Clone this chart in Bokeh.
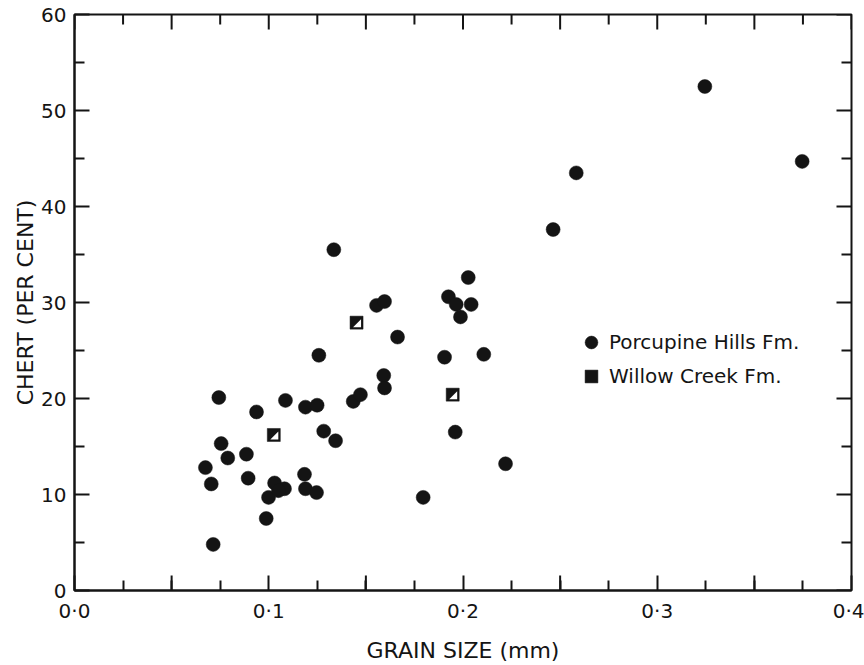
from bokeh.plotting import figure
from bokeh.models import FixedTicker, Legend, LegendItem, ColumnDataSource, Range1d
from bokeh.embed import file_html
from bokeh.resources import INLINE

# Porcupine Hills Fm. (grain size mm, chert %)
porc_x = [0.0743, 0.0937, 0.1086, 0.1189, 0.1249, 0.1258, 0.1283, 0.1344, 0.0755,
          0.0789, 0.0885, 0.0674, 0.0704, 0.0894, 0.1030, 0.1081, 0.0999, 0.1050,
          0.1184, 0.1189, 0.1246, 0.0987, 0.0714, 0.1335, 0.1555, 0.1596, 0.1663,
          0.1435, 0.1472, 0.1592, 0.1596, 0.2027, 0.1925, 0.1965, 0.2042, 0.1987,
          0.1905, 0.2107, 0.1960, 0.2219, 0.1795, 0.2583, 0.2464, 0.3245, 0.3746]
porc_y = [20.1, 18.6, 19.8, 19.1, 19.3, 24.5, 16.6, 15.6, 15.3,
          13.8, 14.2, 12.8, 11.1, 11.7, 11.2, 10.6, 9.7, 10.4,
          12.1, 10.6, 10.2, 7.5, 4.8, 35.5, 29.7, 30.1, 26.4,
          19.7, 20.4, 22.4, 21.1, 32.6, 30.6, 29.8, 29.8, 28.5,
          24.3, 24.6, 16.5, 13.2, 9.7, 43.5, 37.6, 52.5, 44.7]

# Willow Creek Fm.
wc_x = [0.1026, 0.1452, 0.1947]
wc_y = [16.2, 27.9, 20.4]

x_labeled = [0.0, 0.1, 0.2, 0.3, 0.4]
x_tick_labels = ["0·0", "0·1", "0·2", "0·3", "0·4"]
x_mid = [0.05, 0.15, 0.25, 0.35]
x_minor = [0.025, 0.075, 0.125, 0.175, 0.225, 0.275, 0.325, 0.375]
y_ticks = [0, 10, 20, 30, 40, 50, 60]
y_minor = [5, 15, 25, 35, 45, 55]

FONT = "DejaVu Sans"
INK = "#141414"

FW, FH = 777, 576
XR, YR = (0.0, 0.4), (0, 60)
MAJ, MIN = 15, 10

p = figure(frame_width=FW, frame_height=FH, x_range=Range1d(*XR), y_range=Range1d(*YR),
           output_backend="svg", toolbar_location=None,
           min_border_left=74, min_border_right=13, min_border_top=14, min_border_bottom=67,
           background_fill_color="white", border_fill_color="white")
p.outline_line_color = INK
p.outline_line_width = 2
p.grid.visible = False

def style_axis(ax, ticks, minor):
    ax.ticker = FixedTicker(ticks=ticks, minor_ticks=minor)
    ax.axis_line_color = INK
    ax.axis_line_width = 2
    ax.major_tick_line_color = INK
    ax.major_tick_line_width = 2
    ax.minor_tick_line_color = INK
    ax.minor_tick_line_width = 2
    ax.major_tick_in = MAJ
    ax.major_tick_out = 0
    ax.minor_tick_in = MIN
    ax.minor_tick_out = 0
    ax.major_label_text_font = FONT
    ax.major_label_text_color = INK
    ax.major_label_text_font_size = "20px"
    ax.axis_label_text_font = FONT
    ax.axis_label_text_font_style = "normal"
    ax.axis_label_text_color = INK
    ax.axis_label_text_font_size = "22px"

xa = p.xaxis[0]
style_axis(xa, x_labeled, x_minor + x_mid)
xa.major_label_overrides = {t: lab for t, lab in zip(x_labeled, x_tick_labels)}
xa.major_label_standoff = 8
xa.axis_label = "GRAIN SIZE (mm)"
xa.axis_label_standoff = 12

ya = p.yaxis[0]
style_axis(ya, y_ticks, y_minor)
ya.major_label_standoff = 8
ya.axis_label = "CHERT (PER CENT)"
ya.axis_label_standoff = 0

# tick marks on the top and right frame edges, and the longer 0.05 ticks at the bottom
px_x = (XR[1] - XR[0]) / FW
px_y = (YR[1] - YR[0]) / FH
x_all_major = sorted(x_labeled + x_mid)
top_x = x_all_major + x_minor
top_len = [MAJ] * len(x_all_major) + [MIN] * len(x_minor)
p.segment(x0=top_x, y0=[YR[1]] * len(top_x), x1=top_x,
          y1=[YR[1] - L * px_y for L in top_len], line_color=INK, line_width=2)
p.segment(x0=x_mid, y0=[YR[0]] * len(x_mid), x1=x_mid,
          y1=[YR[0] + MAJ * px_y] * len(x_mid), line_color=INK, line_width=2)
right_y = y_ticks + y_minor
right_len = [MAJ] * len(y_ticks) + [MIN] * len(y_minor)
p.segment(x0=[XR[1]] * len(right_y), y0=right_y,
          x1=[XR[1] - L * px_x for L in right_len], y1=right_y, line_color=INK, line_width=2)

porc_src = ColumnDataSource(dict(x=porc_x, y=porc_y))
wc_src = ColumnDataSource(dict(x=wc_x, y=wc_y))

r_porc = p.scatter("x", "y", source=porc_src, marker="circle", size=14,
                   fill_color=INK, line_color=INK, line_width=0.5)
r_wc = p.scatter("x", "y", source=wc_src, marker="square", size=13,
                 fill_color=INK, line_color=INK, line_width=0.5)

# white lower-right half-triangle inside each square (offsets in screen px)
tri_off = [(-3.5, -4.5), (4.5, -4.5), (4.5, 3.5)]  # (dx px, dy px) with y up
tri_xs = [[x + dx * px_x for dx, dy in tri_off] for x in wc_x]
tri_ys = [[y + dy * px_y for dx, dy in tri_off] for y in wc_y]
p.patches(tri_xs, tri_ys, fill_color="white", line_color=None)

legend = Legend(items=[LegendItem(label="Porcupine Hills Fm.", renderers=[r_porc]),
                       LegendItem(label="Willow Creek Fm.", renderers=[r_wc])],
                location=(501, 198))
legend.background_fill_alpha = 0
legend.border_line_color = None
legend.padding = 0
legend.margin = 0
legend.spacing = 2
legend.glyph_width = 32
legend.glyph_height = 32
legend.label_standoff = 2
legend.label_text_font = FONT
legend.label_text_font_size = "20px"
legend.label_text_color = INK
legend.label_height = 32
p.add_layout(legend)

open("out.html", "w").write(file_html(p, INLINE))
